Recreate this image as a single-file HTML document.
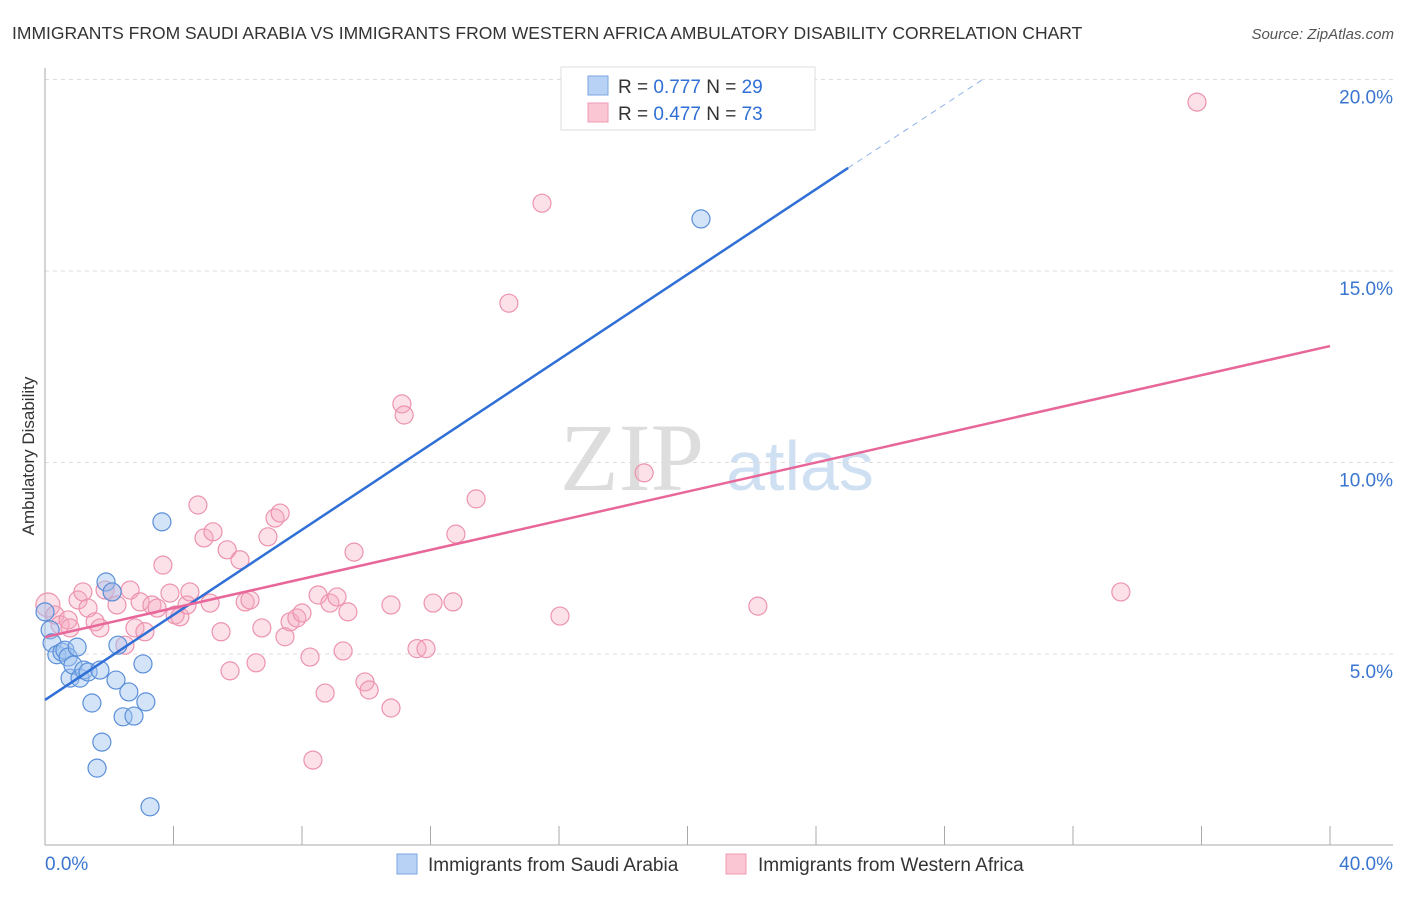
<!DOCTYPE html>
<html><head><meta charset="utf-8"><style>
body{margin:0;background:#fff;font-family:"Liberation Sans",sans-serif;}
</style></head><body>
<svg width="1406" height="892" xmlns="http://www.w3.org/2000/svg" font-family="Liberation Sans, sans-serif">
<text x="12" y="39" font-size="17.5" fill="#333">IMMIGRANTS FROM SAUDI ARABIA VS IMMIGRANTS FROM WESTERN AFRICA AMBULATORY DISABILITY CORRELATION CHART</text>
<text x="1394" y="39" font-size="15" fill="#555" text-anchor="end" font-style="italic">Source: ZipAtlas.com</text>
<g>
<text x="632" y="490" font-size="96" fill="#ddd" font-family="Liberation Serif, serif" text-anchor="middle">ZIP</text>
<text x="800" y="490" font-size="70" fill="#cfe0f3" text-anchor="middle">atlas</text>
</g>
<g id="grid"></g>
<g id="axes"></g>
<g id="marks"></g>
<text transform="translate(34,456) rotate(-90)" font-size="17" fill="#333" text-anchor="middle">Ambulatory Disability</text>
<g>
<rect x="561" y="67" width="254" height="63" fill="#fff" stroke="#ddd"/>
<rect x="588" y="76" width="20" height="19" fill="#b8d2f5" stroke="#7aa6e0"/>
<rect x="588" y="103" width="20" height="19" fill="#fac6d4" stroke="#ee9ab3"/>
<text x="618" y="93" font-size="19" fill="#333">R = <tspan fill="#2f6fd6">0.777</tspan>   N = <tspan fill="#2f6fd6">29</tspan></text>
<text x="618" y="120" font-size="19" fill="#333">R = <tspan fill="#2f6fd6">0.477</tspan>   N = <tspan fill="#2f6fd6">73</tspan></text>
</g>
<g>
<rect x="397" y="854" width="20" height="20" fill="#b8d2f5" stroke="#7aa6e0"/>
<text x="428" y="871" font-size="19" fill="#333">Immigrants from Saudi Arabia</text>
<rect x="726" y="854" width="20" height="20" fill="#fac6d4" stroke="#ee9ab3"/>
<text x="758" y="871" font-size="19" fill="#333">Immigrants from Western Africa</text>
</g>
</svg>
<script>
const blueX=[0.0,0.16,0.22,0.37,0.53,0.62,0.72,0.78,0.87,1.00,1.09,1.21,1.34,1.46,1.62,1.71,1.77,1.90,2.09,2.21,2.27,2.43,2.61,2.77,3.05,3.14,3.27,3.64,20.42];
const blueY=[6.10,5.63,5.29,4.98,5.05,5.10,4.92,4.37,4.71,5.18,4.37,4.58,4.53,3.72,2.02,4.58,2.70,6.88,6.62,4.32,5.23,3.36,4.01,3.38,4.74,3.75,1.01,8.45,16.36];
const pinkX=[0.09,0.31,0.47,0.72,0.78,1.03,1.18,1.34,1.56,1.71,1.87,2.09,2.24,2.49,2.65,2.80,2.96,3.11,3.33,3.49,3.67,3.89,4.05,4.20,4.42,4.51,4.76,4.95,5.14,5.23,5.48,5.67,5.76,6.07,6.23,6.38,6.57,6.75,6.94,7.16,7.32,7.47,7.63,7.84,8.00,8.25,8.34,8.50,8.72,8.87,9.09,9.28,9.43,9.62,9.96,10.09,10.77,10.77,11.11,11.18,11.58,11.86,12.08,12.70,12.79,13.42,14.44,15.47,16.03,18.65,22.19,33.49,35.86];
const pinkY=[6.28,6.02,5.76,5.89,5.68,6.41,6.62,6.20,5.84,5.68,6.67,6.62,6.28,5.23,6.67,5.68,6.36,5.58,6.28,6.20,7.32,6.59,6.02,5.97,6.28,6.62,8.89,8.03,6.33,8.19,5.58,7.72,4.56,7.46,6.36,6.41,4.77,5.68,8.06,8.55,8.68,5.45,5.84,5.94,6.07,4.92,2.23,6.54,3.98,6.33,6.49,5.08,6.10,7.66,4.27,4.06,3.59,6.28,11.53,11.24,5.14,5.14,6.33,6.36,8.13,9.05,14.16,16.77,5.99,9.73,6.25,6.62,19.41];
const blueLine=[[0,3.80],[25.0,17.69]];
const blueDash=[[25.0,17.69],[29.26,20.04]];
const pinkLine=[[0,5.44],[40,13.04]];
const yTicks=[5,10,15,20];
const yTickLabels=["5.0%","10.0%","15.0%","20.0%"];
const xTicks=[0,4,8,12,16,20,24,28,32,36,40];
const NS="http://www.w3.org/2000/svg";
const X=v=>45+v*32.125;
const Y=v=>845.5-v*38.3;
function mk(tag,attrs,parent){const e=document.createElementNS(NS,tag);for(const k in attrs)e.setAttribute(k,attrs[k]);parent.appendChild(e);return e;}
const grid=document.getElementById('grid'),axes=document.getElementById('axes'),marks=document.getElementById('marks');
yTicks.forEach((t,i)=>{
 const l=mk('line',{x1:45,x2:1393,y1:Y(t),y2:Y(t),stroke:'#ddd','stroke-dasharray':'4,4'},grid);
 
 
 const tx=mk('text',{x:1393,y:Y(t)+24,'font-size':19,fill:'#3a75d0','text-anchor':'end'},axes);
 tx.textContent=yTickLabels[i];
 
 
});
const ya=mk('line',{x1:45,x2:45,y1:68,y2:845,stroke:'#aaa'},axes);


const xa=mk('line',{x1:45,x2:1393,y1:845,y2:845,stroke:'#aaa'},axes);


xTicks.forEach(t=>{
 const l=mk('line',{x1:X(t),x2:X(t),y1:826,y2:845,stroke:'#aaa'},axes);
 
 
});
const x0=mk('text',{x:45,y:870,'font-size':19,fill:'#3a75d0'},axes);x0.textContent='0.0%';


const x1=mk('text',{x:1393,y:870,'font-size':19,fill:'#3a75d0','text-anchor':'end'},axes);x1.textContent='40.0%';


pinkX.forEach((v,i)=>{
 const c=mk('circle',{cx:X(v),cy:Y(pinkY[i]),r:i==0?12:9,fill:'rgba(246,170,192,0.35)',stroke:'#ec93ae','stroke-width':1.2},marks);
 
 
});
blueX.forEach((v,i)=>{
 const c=mk('circle',{cx:X(v),cy:Y(blueY[i]),r:9,fill:'rgba(160,195,240,0.45)',stroke:'#5b8fd9','stroke-width':1.2},marks);
 
 
});
const bl=mk('line',{x1:X(blueLine[0][0]),y1:Y(blueLine[0][1]),x2:X(blueLine[1][0]),y2:Y(blueLine[1][1]),stroke:'#2f6fd6','stroke-width':2.5},marks);


const bd=mk('line',{x1:X(blueDash[0][0]),y1:Y(blueDash[0][1]),x2:X(blueDash[1][0]),y2:Y(blueDash[1][1]),stroke:'#8fb3e8','stroke-width':1,'stroke-dasharray':'6,5'},marks);


const pl=mk('line',{x1:X(pinkLine[0][0]),y1:Y(pinkLine[0][1]),x2:X(pinkLine[1][0]),y2:Y(pinkLine[1][1]),stroke:'#e8679a','stroke-width':2.5},marks);


</script>
</body></html>
